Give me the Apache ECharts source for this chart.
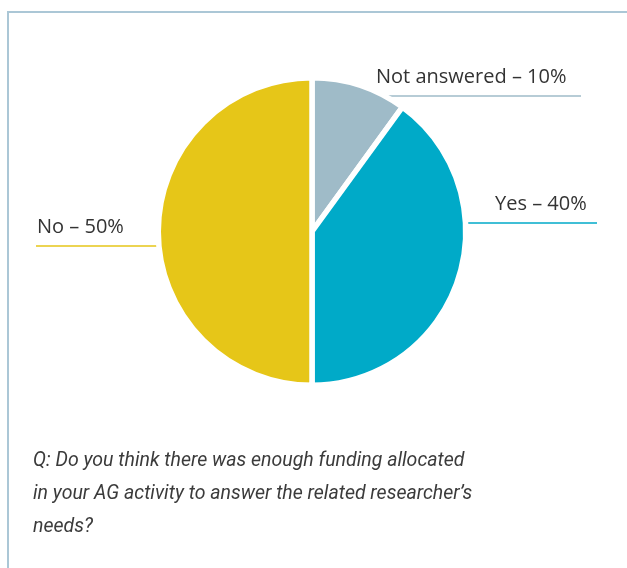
<!DOCTYPE html>
<html>
<head>
<meta charset="utf-8">
<script src="https://cdn.jsdelivr.net/npm/echarts@6/dist/echarts.min.js"></script>
<style>
  html, body { margin: 0; padding: 0; background: #fff; }
  #wrap { position: relative; width: 627px; height: 568px; overflow: hidden; }
  #chart { position: absolute; left: 0; top: 0; width: 627px; height: 568px; }
  #frame { position: absolute; left: 7px; top: 11px; width: 640px; height: 600px;
           border-left: 2px solid #abc7d6; border-top: 2px solid #abc7d6; pointer-events: none; }
</style>
</head>
<body>
<div id="wrap"><div id="chart"></div><div id="frame"></div></div>
<script>
// ---- data ----
const categories = ['Not answered', 'Yes', 'No'];
const values = [10, 40, 50];
const colors = ['#9fbbc8', '#00aac8', '#e6c618'];
const caption = 'Q: Do you think there was enough funding allocated\nin your AG activity to answer the related researcher\u2019s\nneeds?';

// ---- layout (styles/positions) ----
const CX = 312, CY = 231.5, BW = 5.5, RV = 151;
const R = RV + BW / 2;
// per-slice label guide: line y, outer end x, text left x
const guide = [
  { ly: 96,  outerX: 581, textX: 376, side: 1 },
  { ly: 223, outerX: 597, textX: 495, side: 1 },
  { ly: 246, outerX: 36,  textX: 37,  side: -1 }
];

const chart = echarts.init(document.getElementById('chart'), null, { renderer: 'canvas' });
const option = {
  animation: false,
  title: {
    text: caption,
    left: 33, top: 445, padding: 0,
    textStyle: {
      fontFamily: 'Roboto', fontStyle: 'italic', fontWeight: 'normal',
      fontSize: 19.5, lineHeight: 33, color: '#3b3b3b'
    }
  },
  series: [{
    type: 'pie',
    center: [CX, CY],
    radius: R,
    startAngle: 90,
    clockwise: true,
    data: categories.map((c, i) => ({ name: c, value: values[i], itemStyle: { color: colors[i] },
      labelLine: { lineStyle: { color: colors[i], width: 1.5 } } })),
    itemStyle: { borderColor: '#fff', borderWidth: BW },
    label: {
      show: true,
      position: 'outside',
      formatter: p => p.name + ' \u2013 ' + p.percent + '%',
      fontFamily: 'Open Sans', fontSize: 20, color: '#333'
    },
    labelLine: { show: true, length: 0, length2: 10, smooth: false },
    labelLayout: function (params) {
      const g = guide[params.dataIndex];
      const dy = g.ly - CY;
      const ex = CX + g.side * Math.sqrt(Math.max(RV * RV - dy * dy, 0));
      return {
        x: g.textX,
        y: g.ly - 18.5,
        align: 'left',
        verticalAlign: 'middle',
        labelLinePoints: [[ex, g.ly], [ex, g.ly], [g.outerX, g.ly]]
      };
    }
  }]
};
chart.setOption(option);
</script>
</body>
</html>
